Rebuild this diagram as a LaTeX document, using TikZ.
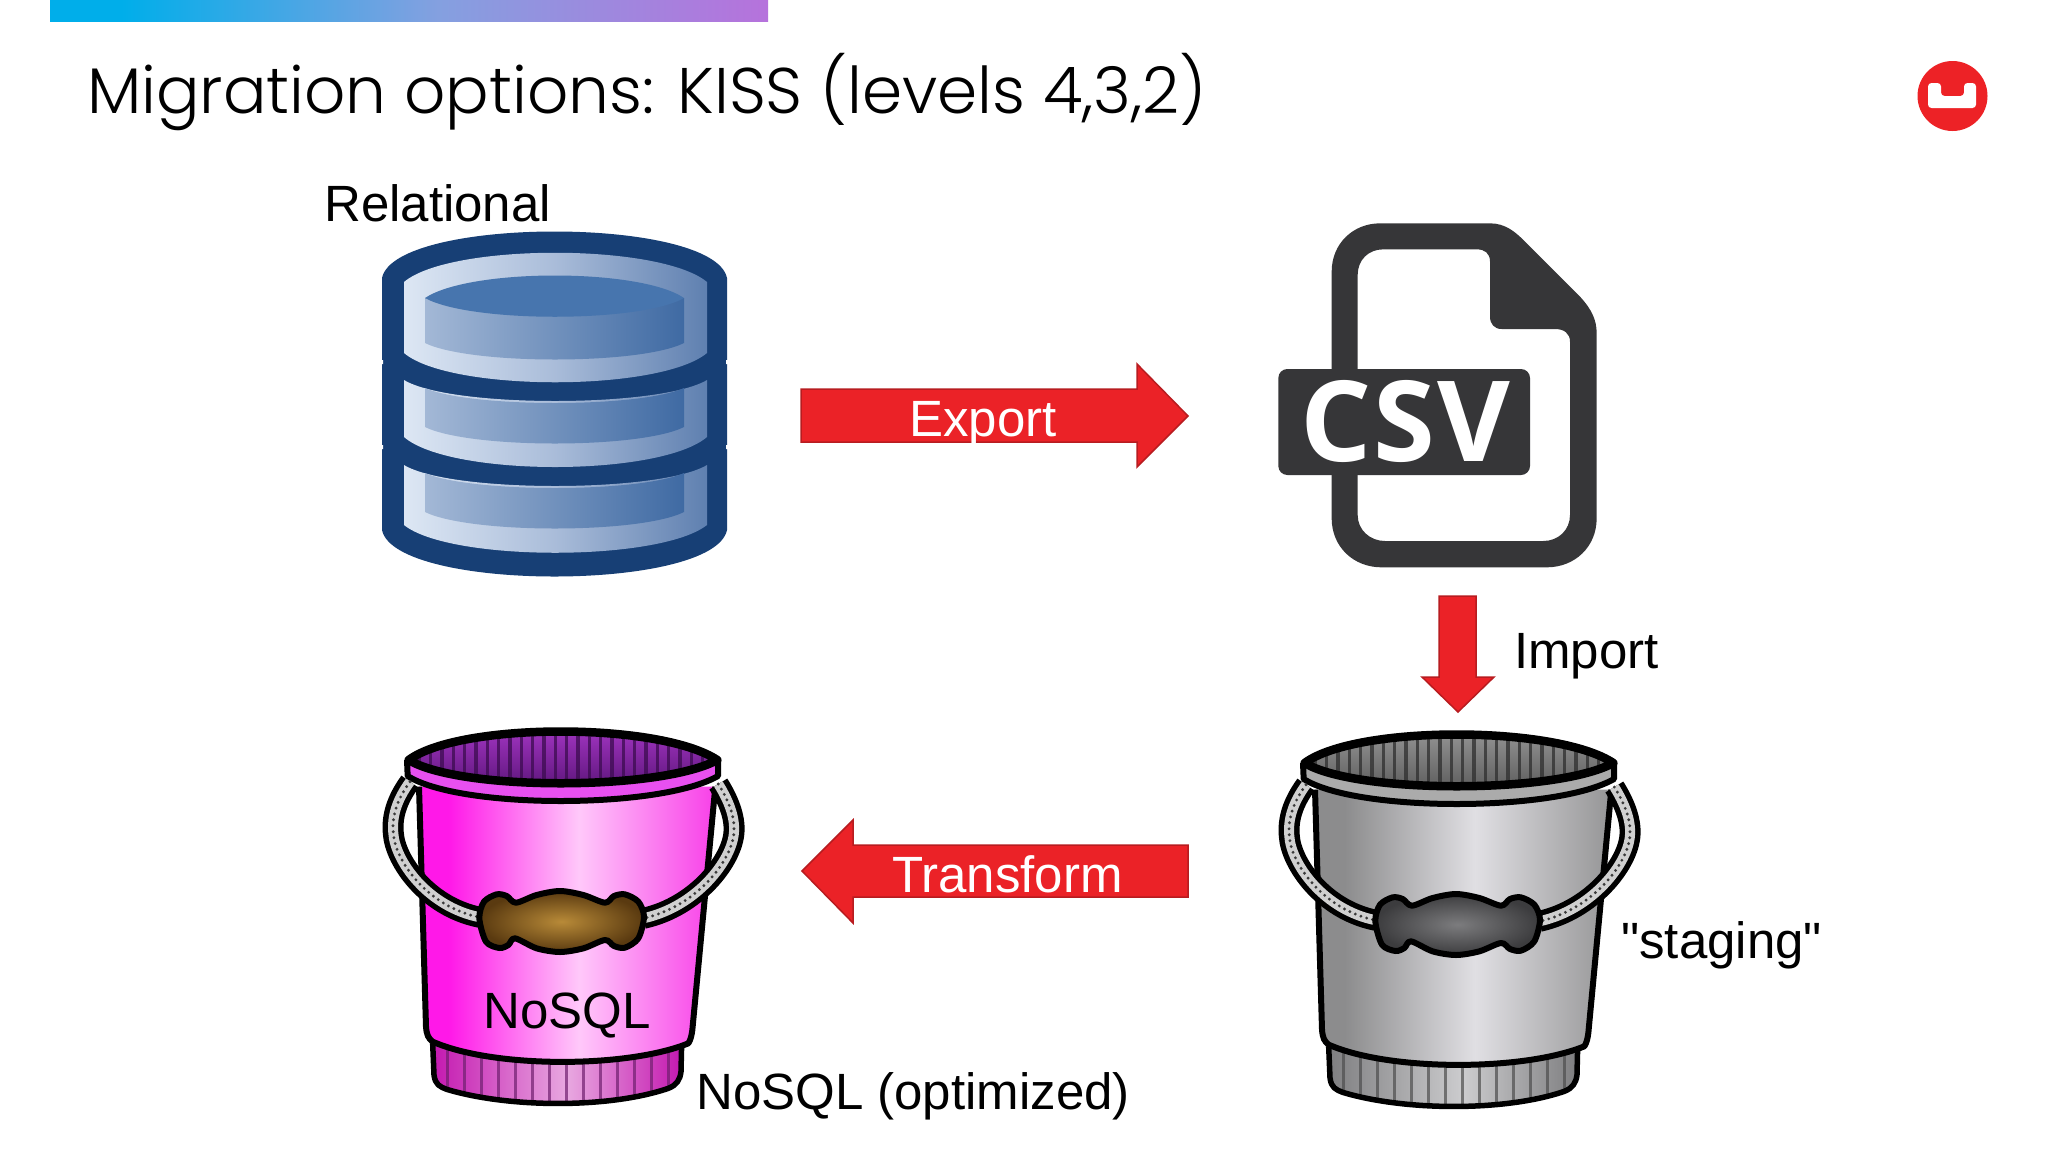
\documentclass[tikz,border=0pt]{standalone}
\usepackage{fontspec}
\newfontfamily\lblfont{Liberation Sans}
\newfontfamily\titlefont{Poppins Light}
\newfontfamily\csvfont[LetterSpace=2]{Open Sans Bold}
\definecolor{HTMLcyan}{HTML}{00AEEA}\definecolor{HTMLmid}{HTML}{84A0E0}\definecolor{HTMLviolet}{HTML}{B672DC}
\definecolor{navy}{HTML}{173F75}
\definecolor{dbA}{HTML}{DDE7F4}\definecolor{dbB}{HTML}{A9BCD9}\definecolor{dbC}{HTML}{5F80B0}
\definecolor{dbD}{HTML}{A3B8D6}\definecolor{dbE}{HTML}{3F6AA3}\definecolor{dbF}{HTML}{4775AE}
\definecolor{arrowred}{HTML}{EB2227}\definecolor{arrowedge}{HTML}{B81C20}
\definecolor{csvdark}{HTML}{363638}\definecolor{logored}{HTML}{ED2226}
\definecolor{pkL}{HTML}{FF18E8}\definecolor{pkM}{HTML}{FFC8FA}\definecolor{pkR}{HTML}{F840E8}
\definecolor{grL}{HTML}{8C8C8D}\definecolor{grM}{HTML}{E0DFE3}\definecolor{grR}{HTML}{959596}
\definecolor{prL}{HTML}{C418B0}\definecolor{prM}{HTML}{E8A8E0}
\definecolor{gsL}{HTML}{7E7E80}\definecolor{gsM}{HTML}{CCCCCE}
\definecolor{hdO}{HTML}{5A3A10}\definecolor{hdI}{HTML}{B88A38}
\definecolor{hgO}{HTML}{3C3C3E}\definecolor{hgI}{HTML}{7C7C7E}
\definecolor{opTopP}{HTML}{A838C8}\definecolor{opBotP}{HTML}{5A1478}\definecolor{opStP}{HTML}{3C0C50}
\definecolor{opTopG}{HTML}{989898}\definecolor{opBotG}{HTML}{5A5A5A}\definecolor{opStG}{HTML}{2E2E2E}
\definecolor{rimP}{HTML}{E850F0}\definecolor{rimG}{HTML}{ABABAB}
\definecolor{ropeC}{HTML}{D0D0D0}\definecolor{ropeD}{HTML}{3A3A3A}
\definecolor{stP}{HTML}{70206F}\definecolor{stG}{HTML}{4E4E4E}
\pgfdeclarehorizontalshading{barshade}{100bp}{color(0bp)=(HTMLcyan);color(30bp)=(HTMLcyan);color(52bp)=(HTMLmid);color(75bp)=(HTMLviolet);color(100bp)=(HTMLviolet)}
\pgfdeclarehorizontalshading{bodyP}{100bp}{color(0bp)=(pkL);color(30bp)=(pkL);color(52bp)=(pkM);color(75bp)=(pkR);color(100bp)=(pkR)}
\pgfdeclarehorizontalshading{bodyG}{100bp}{color(0bp)=(grL);color(30bp)=(grL);color(52bp)=(grM);color(75bp)=(grR);color(100bp)=(grR)}
\pgfdeclarehorizontalshading{ringP}{100bp}{color(0bp)=(prL);color(25bp)=(prL);color(52bp)=(prM);color(75bp)=(prL);color(100bp)=(prL)}
\pgfdeclarehorizontalshading{ringG}{100bp}{color(0bp)=(gsL);color(25bp)=(gsL);color(52bp)=(gsM);color(75bp)=(gsL);color(100bp)=(gsL)}
\pgfdeclarehorizontalshading{dbpanel}{100bp}{color(0bp)=(dbA);color(25bp)=(dbA);color(50bp)=(dbB);color(75bp)=(dbC);color(100bp)=(dbC)}
\pgfdeclarehorizontalshading{dbinner}{100bp}{color(0bp)=(dbD);color(25bp)=(dbD);color(75bp)=(dbE);color(100bp)=(dbE)}
\tikzset{
  lbl/.style={inner sep=0pt,anchor=base west,font=\lblfont\fontsize{51}{60}\selectfont,text=black},
  wlbl/.style={lbl,text=white},
  blockarrow/.style={fill=arrowred,draw=arrowedge,line width=1.5pt,line join=miter},
  bkt/.style={draw=black,line width=6pt,line join=round},
}
\newcommand{\handlepts}{(410,553) (440,558) (468,578) (530,555) (600,543) (670,555) (735,578) (762,558) (795,553) (835,575) (852,620) (835,685) (795,713) (762,708) (735,690) (670,715) (600,726) (530,715) (465,685) (445,705) (418,714) (378,695) (358,625) (372,575)}
% #1 x shift, #2 y shift, #3 P or G (shading suffix), #4 opening top, #5 opening bottom, #6 opening stripe,
% #7 rim, #8 ring stripe, #9 handle colour suffix
\newcommand{\drawbucket}[9]{%
\begin{scope}[shift={(#1,#2)},x=.33333pt,y=-.33333pt]
  % opening
  \path[shade,top color=#4,bottom color=#5] (165,148) .. controls (300,36) and (900,36) .. (1060,148) .. controls (900,243) and (300,243) .. cycle;
  \begin{scope}
    \clip (165,148) .. controls (300,36) and (900,36) .. (1060,148) .. controls (900,243) and (300,243) .. cycle;
    \foreach \i in {0,...,26} \draw[#6,line width=3.5pt,opacity=.75] ({178+\i*34},55) -- ({178+\i*34},240);
  \end{scope}
  % base ring
  \path[shading=ring#3] (218,1000) -- (222,1095) .. controls (226,1125) and (240,1130) .. (260,1138) .. controls (450,1195) and (750,1195) .. (925,1135) .. controls (950,1125) and (960,1110) .. (963,1085) -- (965,1000) -- cycle;
  \begin{scope}
    \clip (218,1000) -- (222,1095) .. controls (226,1125) and (240,1130) .. (260,1138) .. controls (450,1195) and (750,1195) .. (925,1135) .. controls (950,1125) and (960,1110) .. (963,1085) -- (965,1000) -- cycle;
    \foreach \i in {0,...,13} \draw[#8,line width=2.8pt,opacity=.7] ({262+\i*51},1000) -- ({262+\i*51},1190);
  \end{scope}
  \draw[bkt,line width=5.5pt] (218,1000) -- (222,1095) .. controls (226,1125) and (240,1130) .. (260,1138) .. controls (450,1195) and (750,1195) .. (925,1135) .. controls (950,1125) and (960,1110) .. (963,1085) -- (965,1000);
  % body
  \path[shading=body#3] (177,230) -- (198,950) .. controls (200,975) and (205,985) .. (218,995) .. controls (400,1075) and (800,1075) .. (985,1000) .. controls (992,990) and (995,975) .. (997,960) -- (1066,230) -- cycle;
  \draw[bkt] (177,230) -- (198,950) .. controls (200,975) and (205,985) .. (218,995) .. controls (400,1075) and (800,1075) .. (985,1000) .. controls (992,990) and (995,975) .. (997,960) -- (1066,230);
  % rim band
  \path[fill=#7] (141,150) -- (143,198) .. controls (300,298) and (900,298) .. (1074,198) -- (1074,150) .. controls (900,243) and (300,243) .. cycle;
  \draw[bkt] (141,150) -- (143,198) .. controls (300,298) and (900,298) .. (1074,198) -- (1074,150);
  % opening outline
  \draw[bkt,line width=8.5pt] (146,150) .. controls (300,36) and (900,36) .. (1072,150) .. controls (900,243) and (300,243) .. cycle;
  % rope
  \foreach \rp in {
    {(150,215) .. controls (110,270) and (95,320) .. (100,370) .. controls (105,450) and (200,590) .. (360,622)},
    {(1075,222) .. controls (1105,270) and (1125,320) .. (1122,365) .. controls (1118,450) and (1010,590) .. (850,625)}}{
    \draw[black,line width=21pt,line cap=butt] \rp;
    \draw[ropeC,line width=10pt,line cap=butt] \rp;
    \draw[ropeD,line width=3.2pt,line cap=round,dash pattern=on 0pt off 6pt] \rp;
  }
  % handle
  \path[shading=radial,inner color=hdI#9,outer color=hdO#9] plot[smooth cycle,tension=.5] coordinates {\handlepts};
  \draw[bkt] plot[smooth cycle,tension=.5] coordinates {\handlepts};
\end{scope}}
\colorlet{hdIP}{hdI}\colorlet{hdOP}{hdO}\colorlet{hdIG}{hgI}\colorlet{hdOG}{hgO}
\begin{document}
\begin{tikzpicture}[x=1pt,y=-1pt]
\useasboundingbox (0,0) rectangle (2048,1152);
\fill[white] (0,0) rectangle (2048,1152);
% top bar
\path[shading=barshade] (50,0) rectangle (768,21);
% title
\node[inner sep=0pt,anchor=base west,text=black,font=\titlefont\fontsize{64.5}{70}\selectfont] (title) at (87,113) {Migration options: KISS (levels 4,3,2)};
% logo
\fill[logored] (1952.5,96) circle (35);
\fill[white,rounded corners=3.5pt] (1928,83) -- (1941,83) -- (1941,96) -- (1964,96) -- (1964,83) -- (1976,83) -- (1976,108) -- (1928,108) -- cycle;
% database
\fill[navy] (382,278) .. controls (395,216) and (714,216) .. (727,278) -- (727,530) .. controls (714,592) and (395,592) .. (382,530) -- cycle;
\fill[white] (380,360) rectangle (383,364) (380,445) rectangle (383,449) (726,360) rectangle (729,364) (726,445) rectangle (729,449);
\path[shading=dbpanel] (404,282) .. controls (450,243) and (660,243) .. (707,282) -- (707,353) .. controls (660,392) and (450,392) .. (404,353) -- cycle;
\path[shading=dbinner] (425,298) -- (425,343) .. controls (470,365) and (640,365) .. (684,343) -- (684,298) -- cycle;
\fill[dbF] (425,298) .. controls (470,268) and (640,268) .. (684,298) .. controls (640,323) and (470,323) .. cycle;
\path[shading=dbpanel] (404,380) .. controls (450,408) and (660,408) .. (707,380) -- (707,437) .. controls (660,477) and (450,477) .. (404,437) -- cycle;
\path[shading=dbinner] (425,388) .. controls (470,408) and (640,408) .. (684,388) -- (684,427) .. controls (640,449) and (470,449) .. (425,427) -- cycle;
\path[shading=dbpanel] (404,465) .. controls (450,493) and (660,493) .. (707,465) -- (707,525) .. controls (660,562) and (450,562) .. (404,525) -- cycle;
\path[shading=dbinner] (425,473) .. controls (470,493) and (640,493) .. (684,473) -- (684,512) .. controls (640,534) and (470,534) .. (425,512) -- cycle;
% csv icon
\begin{scope}[shift={(1260,210)},x=.33333pt,y=-.33333pt]
  \fill[csvdark,even odd rule] (215,185) .. controls (215,100) and (280,40) .. (360,40) -- (690,40) .. controls (735,40) and (765,65) .. (790,90) -- (960,260) .. controls (995,298) and (1010,330) .. (1010,370) -- (1010,925) .. controls (1010,1010) and (945,1072) .. (860,1072) -- (365,1072) .. controls (280,1072) and (215,1010) .. (215,925) -- cycle
  (293,195) .. controls (293,150) and (325,118) .. (370,118) -- (650,118) .. controls (675,118) and (690,130) .. (690,155) -- (690,320) .. controls (690,342) and (703,357) .. (725,357) -- (885,357) .. controls (912,357) and (930,370) .. (930,395) -- (930,915) .. controls (930,960) and (895,993) .. (850,993) -- (375,993) .. controls (330,993) and (293,960) .. (293,915) -- cycle;
  \fill[csvdark,rounded corners=9pt] (55,477) rectangle (810,795);
\end{scope}
\node[inner sep=0pt,anchor=base west,text=white,font=\csvfont\fontsize{112}{120}\selectfont] (csv) at (1300,461) {CSV};
% arrows
\draw[blockarrow] (801,389) -- (1137,389) -- (1137,364) -- (1188,416) -- (1137,467) -- (1137,442) -- (801,442) -- cycle;
\draw[blockarrow] (1188,845) -- (853,845) -- (853,820) -- (802,871) -- (853,923) -- (853,897) -- (1188,897) -- cycle;
\draw[blockarrow] (1439,596) -- (1476,596) -- (1476,677) -- (1494,677) -- (1458,712) -- (1422,677) -- (1439,677) -- cycle;
% buckets
\drawbucket{360}{710}{P}{opTopP}{opBotP}{opStP}{rimP}{stP}{P}
\drawbucket{1256}{713}{G}{opTopG}{opBotG}{opStG}{rimG}{stG}{G}
% labels
\node[lbl] (rel) at (324,221.5) {Relational};
\node[wlbl] (exp) at (909,436) {Export};
\node[wlbl] (trans) at (892,892) {Transform};
\node[lbl] (imp) at (1514,668) {Import};
\node[lbl] (stag) at (1621,958) {"staging"};
\node[lbl] (nosql) at (483,1028) {NoSQL};
\node[lbl] (opt) at (696,1109) {NoSQL (optimized)};
\end{tikzpicture}
\end{document}
